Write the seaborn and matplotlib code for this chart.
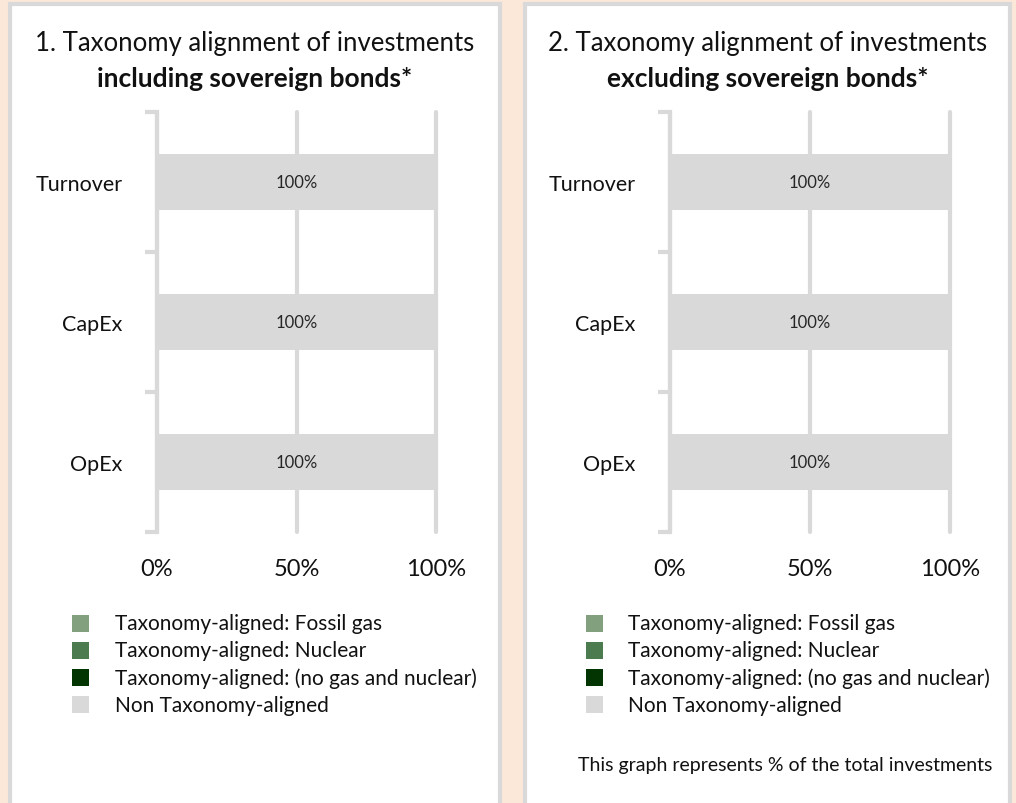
import matplotlib
matplotlib.use("Agg")
import matplotlib.pyplot as plt
import matplotlib.patches as mpatches
import seaborn as sns
import pandas as pd
import numpy as np

categories = ["Turnover", "CapEx", "OpEx"]
series_names = ["Taxonomy-aligned: Fossil gas",
                "Taxonomy-aligned: Nuclear",
                "Taxonomy-aligned: (no gas and nuclear)",
                "Non Taxonomy-aligned"]
colors = ["#82A07E", "#4B7B4F", "#033503", "#D9D9D9"]

# chart 1 (including sovereign bonds)
incl_fossil = [0, 0, 0]
incl_nuclear = [0, 0, 0]
incl_aligned = [0, 0, 0]
incl_non = [100, 100, 100]
# chart 2 (excluding sovereign bonds)
excl_fossil = [0, 0, 0]
excl_nuclear = [0, 0, 0]
excl_aligned = [0, 0, 0]
excl_non = [100, 100, 100]

xtick_vals = [0, 50, 100]
xtick_labels = ["0%", "50%", "100%"]

titles = [("1. Taxonomy alignment of investments", "including sovereign bonds*"),
          ("2. Taxonomy alignment of investments", "excluding sovereign bonds*")]
footer = "This graph represents % of the total investments"

sns.set_theme(style="white")
FONT = ["Lato", "DejaVu Sans"]
plt.rcParams["font.family"] = FONT

W, H = 1016, 804
fig = plt.figure(figsize=(W / 100, H / 100), dpi=100)
fig.patch.set_facecolor("#FCE8D8")
GREY = "#D9D9D9"

def fx(px):
    return px / W

def fy(py):
    return 1 - py / H

# panels
for (x0, x1) in [(10, 500), (525, 1010)]:
    rect = mpatches.Rectangle((fx(x0), fy(820)), fx(x1 - x0), (820 - 5) / H,
                              transform=fig.transFigure, facecolor="white",
                              edgecolor=GREY, linewidth=3, zorder=-10)
    fig.patches.append(rect)

panels = [
    dict(ax_x0=157, ax_x1=436, data=[incl_fossil, incl_nuclear, incl_aligned, incl_non],
         title_cx=255, leg_sq=72, leg_tx=115),
    dict(ax_x0=670, ax_x1=950, data=[excl_fossil, excl_nuclear, excl_aligned, excl_non],
         title_cx=768, leg_sq=586, leg_tx=628),
]

ax_top, ax_bot = 113, 533
for i, p in enumerate(panels):
    ax = fig.add_axes([fx(p["ax_x0"]), fy(ax_bot), fx(p["ax_x1"] - p["ax_x0"]), (ax_bot - ax_top) / H])
    ax.set_facecolor("none")
    vals = np.array(p["data"], dtype=float)
    cum = np.cumsum(vals, axis=0)
    # draw from the full total backwards so that segments stack
    for k in range(len(series_names) - 1, -1, -1):
        df = pd.DataFrame({"cat": categories, "val": cum[k]})
        sns.barplot(data=df, x="val", y="cat", orient="h", color=colors[k],
                    width=0.4, ax=ax, saturation=1, zorder=2, linewidth=0)
    # labels for non-aligned
    for j, c in enumerate(categories):
        v = vals[3][j]
        start = cum[2][j]
        ax.text(start + v / 2, j, f"{v:.0f}%", ha="center", va="center",
                fontsize=12, color="#262626", zorder=3)
    ax.set_xlim(0, 100)
    ax.set_ylim(2.5, -0.5)
    ax.set_xlabel("")
    ax.set_ylabel("")
    for s in ["top", "right", "bottom"]:
        ax.spines[s].set_visible(False)
    ax.spines["left"].set_color(GREY)
    ax.spines["left"].set_linewidth(3)
    ax.spines["left"].set_zorder(1)
    ax.set_xticks(xtick_vals)
    ax.set_xticklabels(xtick_labels, fontsize=17, color="#111111")
    ax.tick_params(axis="x", length=0, pad=19)
    ax.set_yticks(range(len(categories)))
    ax.set_yticklabels(categories, fontsize=15.5, color="#111111")
    ax.tick_params(axis="y", which="major", left=False, length=0, pad=25)
    ax.set_yticks([-0.5, 0.5, 1.5, 2.5], minor=True)
    ax.tick_params(axis="y", which="minor", left=True, length=9, width=3,
                   color=GREY, direction="out")
    ax.xaxis.grid(True, color=GREY, linewidth=3, zorder=1)
    ax.set_axisbelow(True)
    for gl in ax.get_xgridlines():
        gl.set_clip_on(False)
    # titles
    fig.text(fx(p["title_cx"]), fy(43), titles[i][0], ha="center", va="center",
             fontsize=18.5, color="#111111")
    fig.text(fx(p["title_cx"]), fy(79), titles[i][1], ha="center", va="center",
             fontsize=19, fontweight="bold", color="#111111")
    # legend
    for k, name in enumerate(series_names):
        cy = 624 + k * 27.3
        sq = mpatches.Rectangle((fx(p["leg_sq"]), fy(cy + 8.5)), fx(17), 17 / H,
                                transform=fig.transFigure, facecolor=colors[k],
                                edgecolor="none")
        fig.patches.append(sq)
        fig.text(fx(p["leg_tx"]), fy(cy), name, ha="left", va="center",
                 fontsize=15, color="#111111")

fig.text(fx(578), fy(766), footer, ha="left", va="center", fontsize=14, color="#111111")

fig.savefig("out.png", dpi=100, facecolor=fig.get_facecolor())
